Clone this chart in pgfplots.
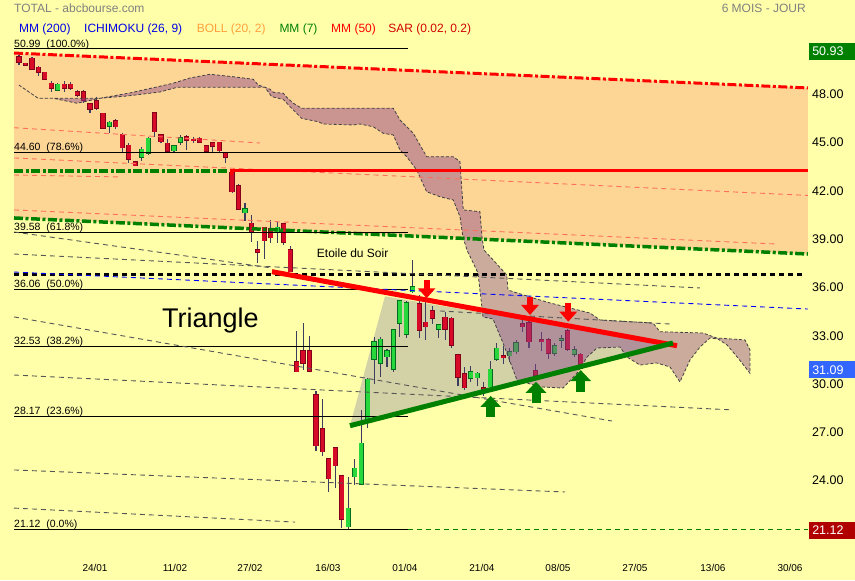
\documentclass[border=0pt]{standalone}
\usepackage{pgfplots}
\pgfplotsset{compat=1.18}
\usepackage{pgfplotstable}
\usepackage{fontspec}
\setmainfont{Liberation Sans}
\usetikzlibrary{arrows.meta}

\definecolor{bgy}{RGB}{255,255,170}
\definecolor{bollor}{RGB}{253,214,150}
\definecolor{cloudc}{RGB}{140,70,140}
\definecolor{trif}{RGB}{110,105,160}
\definecolor{redc}{RGB}{255,0,0}
\definecolor{grn}{RGB}{0,128,0}
\definecolor{salmon}{RGB}{255,110,90}
\definecolor{dgray}{RGB}{85,85,85}
\definecolor{wickc}{RGB}{60,60,95}
\definecolor{upbody}{RGB}{40,215,60}
\definecolor{upedge}{RGB}{0,110,30}
\definecolor{dnbody}{RGB}{215,10,40}
\definecolor{dnedge}{RGB}{130,0,25}
\definecolor{txtgray}{RGB}{128,128,128}
\definecolor{boxgreen}{RGB}{0,128,0}
\definecolor{boxblue}{RGB}{51,102,255}
\definecolor{boxred}{RGB}{176,0,0}
\definecolor{orangetxt}{RGB}{255,160,60}
\definecolor{sarred}{RGB}{210,0,0}
\definecolor{mmblue}{RGB}{0,0,230}

\pgfplotstableread{
i o h l c
-12 50.48 50.60 50.00 50.17
-11 50.08 50.12 49.90 49.96
-10 50.39 50.45 49.65 49.71
-9 49.83 49.90 49.29 49.52
-8 49.52 49.55 49.05 49.09
-7 48.84 49.00 48.30 48.53
-5 48.78 49.00 48.30 48.53
-4 48.78 48.95 48.45 48.53
-3 48.32 48.40 48.00 48.09
-2 48.32 48.40 47.60 47.80
-1 47.55 47.60 47.01 47.24
0 47.74 48.00 47.20 47.30
1 46.97 47.00 46.00 46.04
3 46.50 46.60 46.00 46.14
4 45.67 45.75 44.60 44.84
5 44.99 45.10 43.87 44.12
6 43.95 44.00 43.68 43.72
9 47.01 47.05 45.52 45.83
10 45.63 45.70 45.15 45.21
11 45.11 45.40 44.60 44.63
14 45.52 45.60 44.69 45.31
15 45.36 45.50 45.10 45.27
16 45.42 45.50 45.10 45.17
17 44.94 45.00 44.50 44.63
18 45.15 45.20 44.60 44.94
19 45.17 45.20 44.60 44.65
20 44.53 44.60 43.87 44.24
21 43.30 43.40 42.00 42.10
22 42.46 42.58 41.00 41.03
24 40.14 40.65 38.99 39.62
25 38.48 39.06 37.69 38.34
26 39.89 39.90 37.90 39.06
27 39.83 40.34 38.93 39.24
29 40.10 40.10 38.79 38.99
30 38.48 38.75 37.10 37.13
31 31.52 33.46 30.90 30.92
32 32.20 33.96 31.02 31.44
33 32.20 33.13 30.96 30.96
34 29.47 29.70 26.00 26.32
35 27.35 29.22 25.70 25.94
36 25.49 25.50 23.46 24.27
37 26.16 26.20 23.67 25.07
38 24.43 24.50 21.20 21.74
50 35.12 35.70 33.00 33.51
51 33.98 35.30 32.90 33.71
52 34.69 35.00 33.90 34.23
54 34.29 34.60 32.90 33.55
55 34.23 34.30 32.40 32.57
56 31.95 32.00 30.00 30.60
57 30.77 31.20 29.80 29.92
60 29.89 30.30 29.40 29.78
63 31.91 32.50 31.40 31.81
66 33.88 34.10 33.40 33.71
67 33.96 34.10 32.40 32.78
68 30.96 31.40 30.60 30.69
69 32.87 33.40 32.20 32.83
70 32.90 33.00 31.70 32.09
73 33.44 33.60 32.20 32.33
75 32.00 32.10 31.10 31.12
}\downc

\pgfplotstableread{
i o h l c
-6 48.42 48.85 48.40 48.78
2 46.19 46.50 45.73 46.42
7 44.24 44.90 44.00 44.74
8 44.49 45.50 44.40 45.42
12 44.65 45.00 44.60 44.94
13 45.17 45.60 45.00 45.46
23 40.80 41.40 40.30 41.03
28 39.58 40.20 38.93 39.89
39 21.28 24.39 21.12 22.43
40 24.39 25.50 23.90 24.91
41 23.93 28.54 23.90 26.46
42 27.96 30.50 27.40 30.44
43 31.70 33.05 30.15 32.78
44 31.44 33.05 30.60 32.93
45 31.85 32.30 31.20 32.20
46 31.06 33.60 30.90 33.50
47 33.92 35.40 33.10 35.33
48 33.24 35.30 33.00 35.20
49 35.89 37.86 35.80 36.20
53 33.55 33.90 33.00 33.82
58 30.50 31.30 30.30 30.92
59 30.54 30.90 30.00 30.82
61 29.98 31.60 29.90 31.06
62 31.70 32.70 31.60 32.37
64 31.91 32.40 31.50 32.16
65 32.16 32.90 32.00 32.73
71 32.06 32.70 31.90 32.51
72 32.90 33.20 32.40 32.94
74 32.00 32.50 31.80 32.27
}\upc

\newcommand{\candleset}[3]{%
\addplot [draw=none, mark=none, forget plot, error bars/.cd, y dir=both, y explicit, error mark=none,
  error bar style={draw=wickc, line width=1.1pt, solid}]
  table [x=i, y expr={(\thisrow{h}+\thisrow{l})/2}, y error expr={(\thisrow{h}-\thisrow{l})/2}] {#1};
\addplot [draw=none, mark=none, forget plot, error bars/.cd, y dir=both, y explicit, error mark=none,
  error bar style={draw=#3, line width=5.2pt, solid}]
  table [x=i, y expr={(\thisrow{o}+\thisrow{c})/2}, y error expr={max(abs(\thisrow{o}-\thisrow{c})/2,0.03)+0.045}] {#1};
\addplot [draw=none, mark=none, forget plot, error bars/.cd, y dir=both, y explicit, error mark=none,
  error bar style={draw=#2, line width=3.8pt, solid}]
  table [x=i, y expr={(\thisrow{o}+\thisrow{c})/2}, y error expr={max(abs(\thisrow{o}-\thisrow{c})/2,0.03)}] {#1};
}

\tikzset{pl/.style={anchor=west, inner sep=0pt, font=\fontsize{12.5}{14}\selectfont},
  dl/.style={anchor=base, inner sep=0pt, font=\fontsize{10}{12}\selectfont},
  fl/.style={anchor=base west, inner sep=0pt, font=\fontsize{10.5}{12}\selectfont},
  hl/.style={anchor=base west, inner sep=0pt, font=\fontsize{12}{14}\selectfont},
  bx/.style={anchor=west, text=white, inner xsep=3pt, inner ysep=0pt, minimum height=17pt, text width=40pt, align=left, font=\fontsize{12.5}{14}\selectfont}}

\begin{document}
\begin{tikzpicture}
\begin{axis}[
  width=855pt, height=580pt, scale only axis,
  xmin=-14.95, xmax=117.51, ymin=17.97, ymax=54.017,
  axis line style={draw=none}, ticks=none,
  axis background/.style={fill=bgy},
]
% Bollinger channel fill
\addplot [fill=bollor, draw=none] coordinates {(-12.78,50.72) (110.22,48.55) (110.22,38.23) (-12.78,40.47)} -- cycle;
% triangle shading
\addplot [fill=trif, fill opacity=0.3, draw=none] coordinates {(39.27,27.56) (44.69,35.60) (89.6,32.56)} -- cycle;

% candles
\candleset{\downc}{dnbody}{dnedge}
\candleset{\upc}{upbody}{upedge}

% Ichimoku cloud
\addplot [fill=cloudc, fill opacity=0.45, draw=black!75, dash pattern=on 3pt off 2pt, line width=0.8pt] coordinates {
(-12.01,48.73) (-9.06,47.91) (0.54,47.91) (5.19,48.24) (11.85,48.84) (14.48,49.17) (17.58,49.40) (21.15,49.25) (24.29,49.09) (25.07,48.73) (26.10,48.59) (26.88,48.47) (27.39,48.28) (28.94,48.22) (29.47,47.97) (30.49,47.60) (31.79,47.29) (45.98,47.29) (47.02,46.56) (49.08,45.73) (51.15,44.28) (55.27,44.28) (56.31,43.97) (56.82,40.97) (59.41,40.86) (59.72,39.29) (60.03,38.48) (61.74,37.73) (63.55,36.93) (63.75,35.99) (67.62,35.50) (70.26,35.19) (76.46,34.56) (78.00,34.13) (86.21,33.94) (87.30,33.40) (93.96,33.32) (96.08,33.01) (100.46,32.89) (101.24,32.27) (101.24,30.82)
(99.38,31.77) (97.68,32.58) (96.28,32.95) (95.04,33.01) (93.49,32.45) (91.94,31.64) (90.39,30.28) (88.84,31.21) (86.79,31.46) (84.20,31.33) (82.18,31.83) (81.10,32.45) (77.54,32.39) (76.00,31.83) (74.44,30.82) (72.27,29.90) (68.71,29.97) (65.14,30.40) (62.98,32.70) (61.43,34.19) (59.88,34.32) (59.10,37.05) (57.39,38.48) (56.77,39.29) (56.31,40.55) (55.27,41.59) (53.21,41.79) (51.15,42.10) (49.61,43.45) (48.06,44.28) (47.02,44.69) (45.98,45.63) (44.43,45.73) (42.88,46.14) (40.82,46.31) (39.78,46.25) (35.14,46.31) (34.36,46.45) (31.79,46.66) (29.98,47.39) (28.94,47.84) (27.14,48.01) (26.10,48.59) (12.47,48.59) (9.84,48.30) (4.73,48.05) (0.54,47.91) (-3.02,47.60) (-6.74,47.91) (-9.06,47.91)
} -- cycle;

% salmon dashed lines
\addplot [salmon, line width=0.9pt, dash pattern=on 5pt off 4pt] coordinates {(-12.78,46.08) (25.33,45.13)};
\addplot [salmon, line width=0.9pt, dash pattern=on 5pt off 4pt] coordinates {(-12.78,44.20) (110.22,41.87)};
\addplot [salmon, line width=0.9pt, dash pattern=on 5pt off 4pt] coordinates {(-12.78,43.14) (3.64,43.02)};
\addplot [salmon, line width=0.9pt, dash pattern=on 5pt off 4pt] coordinates {(-12.78,40.97) (105.42,38.85)};

% Bollinger lines
\addplot [redc, line width=3pt, dash pattern=on 9pt off 2.5pt on 3pt off 2.5pt] coordinates {(-12.78,50.72) (110.22,48.55)};
\addplot [grn, line width=3.5pt, dash pattern=on 9pt off 2.5pt on 3pt off 2.5pt] coordinates {(-12.78,40.47) (110.22,38.23)};
\addplot [grn, line width=3.2pt, dash pattern=on 9pt off 2.5pt on 3pt off 2.5pt] coordinates {(-12.78,43.39) (20.99,43.39)};
\addplot [redc, line width=3pt] coordinates {(20.99,43.14) (20.99,43.39) (110.22,43.39)};

% Fibonacci lines
\addplot [black, line width=0.9pt] coordinates {(-12.78,50.99) (48.26,50.99)};
\addplot [black, line width=0.9pt] coordinates {(-12.78,44.57) (48.26,44.57)};
\addplot [black, line width=0.9pt] coordinates {(-12.78,39.56) (48.26,39.56)};
\addplot [black, line width=0.9pt] coordinates {(-12.78,36.03) (48.26,36.03)};
\addplot [black, line width=0.9pt] coordinates {(-12.78,32.51) (48.26,32.51)};
\addplot [black, line width=0.9pt] coordinates {(-12.78,28.16) (48.26,28.16)};
\addplot [black, line width=0.9pt] coordinates {(-12.78,21.12) (48.26,21.12)};
\addplot [grn, line width=1.5pt, dash pattern=on 5pt off 4pt] coordinates {(48.26,21.12) (110.22,21.12)};

% SAR dotted, MM200 blue dashed
\addplot [black, line width=3pt, dash pattern=on 5pt off 4pt] coordinates {(-12.78,36.97) (109.29,36.97)};
\addplot [blue, line width=0.9pt, dash pattern=on 5pt off 4pt] coordinates {(-12.78,37.11) (110.22,34.81)};

% gray dashed fan lines
\addplot [dgray, line width=0.9pt, dash pattern=on 5pt off 4pt] coordinates {(-12.78,39.60) (27.19,37.36)};
\addplot [dgray, line width=0.9pt, dash pattern=on 5pt off 4pt] coordinates {(-12.78,38.23) (93.49,36.12)};
\addplot [dgray, line width=0.9pt, dash pattern=on 5pt off 4pt] coordinates {(27.19,37.24) (62.51,34.44)};
\addplot [dgray, line width=0.9pt, dash pattern=on 5pt off 4pt] coordinates {(53.21,34.69) (88.84,33.88)};
\addplot [dgray, line width=0.9pt, dash pattern=on 5pt off 4pt] coordinates {(-12.78,34.32) (79.86,27.85)};
\addplot [dgray, line width=0.9pt, dash pattern=on 5pt off 4pt] coordinates {(-12.78,30.71) (98.61,28.54)};
\addplot [dgray, line width=0.9pt, dash pattern=on 5pt off 4pt] coordinates {(-12.78,24.81) (72.58,23.44)};
\addplot [dgray, line width=0.9pt, dash pattern=on 5pt off 4pt] coordinates {(-12.78,22.44) (30.75,21.57)};

% triangle trend lines
\addplot [redc, line width=5pt] coordinates {(27.19,37.13) (89.93,32.53)};
\addplot [grn, line width=5pt] coordinates {(39.27,27.56) (89.31,32.70)};

% arrows
\addplot [redc, line width=6pt, -{Triangle[length=10pt 0 0, width=17pt 0 0]}] coordinates {(51.15,36.61) (51.15,35.48)};
\addplot [redc, line width=6pt, -{Triangle[length=10pt 0 0, width=17pt 0 0]}] coordinates {(67.16,35.58) (67.16,34.44)};
\addplot [redc, line width=6pt, -{Triangle[length=10pt 0 0, width=17pt 0 0]}] coordinates {(73.09,35.19) (73.09,34.02)};
\addplot [grn, line width=9pt, -{Triangle[length=11pt 0 0, width=20pt 0 0]}] coordinates {(61.07,28.10) (61.07,29.41)};
\addplot [grn, line width=9pt, -{Triangle[length=11pt 0 0, width=20pt 0 0]}] coordinates {(68.09,28.95) (68.09,30.29)};
\addplot [grn, line width=9pt, -{Triangle[length=11pt 0 0, width=20pt 0 0]}] coordinates {(75.01,29.67) (75.01,31.02)};

% header texts
\node[hl, text=txtgray] at (axis cs:-12.78,53.21) {TOTAL - abcbourse.com};
\node[hl, anchor=base east, text=txtgray] at (axis cs:109.91,53.21) {6 MOIS - JOUR};
\node[hl, text=mmblue] at (axis cs:-12.01,51.97) {MM (200)};
\node[hl, text=mmblue] at (axis cs:-1.94,51.97) {ICHIMOKU (26, 9)};
\node[hl, text=orangetxt] at (axis cs:15.52,51.97) {BOLL (20, 2)};
\node[hl, text=grn] at (axis cs:28.32,51.97) {MM (7)};
\node[hl, text=redc] at (axis cs:36.33,51.97) {MM (50)};
\node[hl, text=sarred] at (axis cs:45.20,51.97) {SAR (0.02, 0.2)};

% Fibonacci labels
\node[fl] at (axis cs:-12.78,51.09) {50.99\hspace{6pt}(100.0\%)};
\node[fl] at (axis cs:-12.78,44.67) {44.60\hspace{6pt}(78.6\%)};
\node[fl] at (axis cs:-12.78,39.66) {39.58\hspace{6pt}(61.8\%)};
\node[fl] at (axis cs:-12.78,36.13) {36.06\hspace{6pt}(50.0\%)};
\node[fl] at (axis cs:-12.78,32.61) {32.53\hspace{6pt}(38.2\%)};
\node[fl] at (axis cs:-12.78,28.26) {28.17\hspace{6pt}(23.6\%)};
\node[fl] at (axis cs:-12.78,21.22) {21.12\hspace{6pt}(0.0\%)};

% annotations
\node[hl] at (axis cs:34.12,38.04) {Etoile du Soir};
\node[anchor=base west, inner sep=0pt, font=\fontsize{27}{30}\selectfont] at (axis cs:10.15,33.69) {Triangle};

% right price scale
\node[pl] at (axis cs:110.85,48.15) {48.00};
\node[pl] at (axis cs:110.85,45.15) {45.00};
\node[pl] at (axis cs:110.85,42.15) {42.00};
\node[pl] at (axis cs:110.85,39.15) {39.00};
\node[pl] at (axis cs:110.85,36.15) {36.00};
\node[pl] at (axis cs:110.85,33.15) {33.00};
\node[pl] at (axis cs:110.85,30.15) {30.00};
\node[pl] at (axis cs:110.85,27.15) {27.00};
\node[pl] at (axis cs:110.85,24.15) {24.00};
\node[bx, fill=boxgreen] at (axis cs:110.39,50.83) {50.93};
\node[bx, fill=boxblue] at (axis cs:110.39,31.03) {31.09};
\node[bx, fill=boxred] at (axis cs:110.39,21.05) {21.12};

% date labels
\node[dl] at (axis cs:-0.23,18.47) {24/01};
\node[dl] at (axis cs:12.16,18.47) {11/02};
\node[dl] at (axis cs:23.78,18.47) {27/02};
\node[dl] at (axis cs:35.86,18.47) {16/03};
\node[dl] at (axis cs:47.79,18.47) {01/04};
\node[dl] at (axis cs:59.71,18.47) {21/04};
\node[dl] at (axis cs:71.49,18.47) {08/05};
\node[dl] at (axis cs:83.42,18.47) {27/05};
\node[dl] at (axis cs:95.50,18.47) {13/06};
\node[dl] at (axis cs:107.44,18.47) {30/06};
\end{axis}
\end{tikzpicture}
\end{document}
